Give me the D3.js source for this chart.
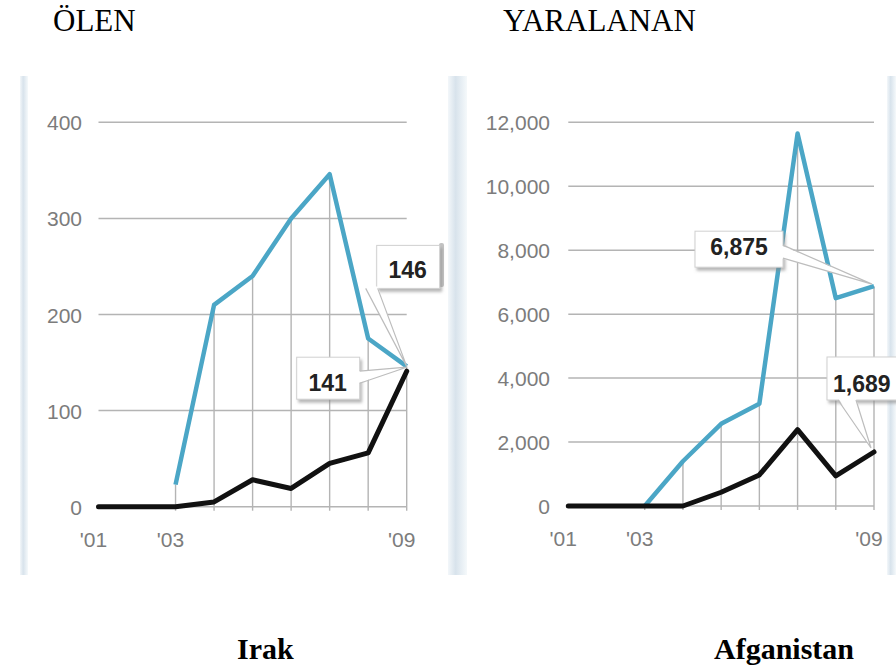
<!DOCTYPE html>
<html>
<head>
<meta charset="utf-8">
<script src="https://cdn.jsdelivr.net/npm/d3@7"></script>
<style>
  body { margin: 0; background: #fff; }
  svg { display: block; overflow: hidden; }
</style>
</head>
<body>
<div id="Chart"></div>
<script>
//////////////////////////////////////////////////////////////////////////
// data

var years = [2001, 2002, 2003, 2004, 2005, 2006, 2007, 2008, 2009];
var yearTickValues = [2001, 2003, 2009];
var yearTickLabels = ["'01", "'03", "'09"];

// killed (left panel)
var killedBlue  = [null, null, 23, 210, 240, 300, 346, 175, 146];
var killedBlack = [0, 0, 0, 5, 28, 19, 45, 56, 141];
var killedTicks = [0, 100, 200, 300, 400];

// wounded (right panel)
var woundedBlue  = [null, null, 0, 1400, 2570, 3200, 11650, 6500, 6875];
var woundedBlack = [0, 0, 0, 0, 430, 970, 2390, 940, 1689];
var woundedTicks = [0, 2000, 4000, 6000, 8000, 10000, 12000];

var titles = ["ÖLEN", "YARALANAN"];
var countries = ["Irak", "Afganistan"];

//////////////////////////////////////////////////////////////////////////
// layout constants

var Width = 896;
var Height = 670;
var BlueColor = "#4ba6c6";
var BlackColor = "#111";
var GridColor = "#b4b4b4";

var panels = [
    { blue: killedBlue, black: killedBlack, ticks: killedTicks,
      xRange: [98.5, 406.7], yRange: [506.7, 122.3], yMax: 400,
      labelX: 82, fmt: d3.format("d"),
      title: { x: 53, y: 31 }, country: { x: 237, y: 659 },
      // callouts: box relative to the last data point
      callouts: [
          { series: "blue", box: [-30, -121, 63, 43], textX: 31, textY: 33, anchor: "middle",
            base: [[-11, 0], [1, 0]], baseSide: "bottom", tip: [0, 0] },
          { series: "black", box: [-110, -14, 63, 42], textX: 31, textY: 34, anchor: "middle",
            base: [[0, 14], [0, 26]], baseSide: "right", tip: [0, -4] }
      ] },
    { blue: woundedBlue, black: woundedBlack, ticks: woundedTicks,
      xRange: [568.3, 874], yRange: [506, 122.3], yMax: 12000,
      labelX: 550, fmt: d3.format(","),
      title: { x: 503, y: 31 }, country: { x: 714, y: 659 },
      callouts: [
          { series: "blue", box: [-179, -55, 88, 36], textX: 44, textY: 24, anchor: "middle",
            base: [[0, 14], [0, 27]], baseSide: "right", tip: [-2, -2] },
          { series: "black", box: [-47, -95, 90, 43], textX: 6, textY: 35, anchor: "start",
            base: [[11, 0], [29, 0]], baseSide: "bottom", tip: [-3, -4] }
      ] }
];

//////////////////////////////////////////////////////////////////////////
// functions

function initialize () {

    var svg = d3.select("#Chart")
        .append("svg")
        .attr("width", Width)
        .attr("height", Height);

    makeDefs(svg);
    makeFrames(svg);

    panels.forEach(function (p, i) {
        drawPanel(svg, p, i);
    });

} // end initialize

// gradient for the pale blue frame edges and a shadow for callouts
function makeDefs (svg) {

    var defs = svg.append("defs");

    var grad = defs.append("linearGradient")
        .attr("id", "edge")
        .attr("x1", "0").attr("x2", "1").attr("y1", "0").attr("y2", "0");
    grad.append("stop").attr("offset", "0%").attr("stop-color", "#f3f7fa");
    grad.append("stop").attr("offset", "40%").attr("stop-color", "#d8e3ec");
    grad.append("stop").attr("offset", "100%").attr("stop-color", "#f5f9fb");

    var shadow = defs.append("filter")
        .attr("id", "shadow")
        .attr("x", "-20%").attr("y", "-20%")
        .attr("width", "150%").attr("height", "160%");
    shadow.append("feDropShadow")
        .attr("dx", 2).attr("dy", 3)
        .attr("stdDeviation", 1.6)
        .attr("flood-color", "#888")
        .attr("flood-opacity", 0.6);

} // end makeDefs

// the pale vertical strips that frame the two panels
function makeFrames (svg) {

    var strips = [[20, 8], [448, 19], [887, 9]];

    svg.selectAll("rect.edge")
        .data(strips)
        .enter()
        .append("rect")
        .attr("class", "edge")
        .attr("x", function (d) { return d[0]; })
        .attr("y", 76)
        .attr("width", function (d) { return d[1]; })
        .attr("height", 499)
        .attr("fill", "url(#edge)");

    // small grey handle left of the second panel
    svg.append("rect")
        .attr("x", 439).attr("y", 243)
        .attr("width", 5).attr("height", 44)
        .attr("rx", 2)
        .attr("fill", "#9a9a9a")
        .attr("opacity", 0.6);

} // end makeFrames

function drawPanel (svg, p, i) {

    var g = svg.append("g").attr("class", "panel");

    var xScale = d3.scaleLinear()
        .domain([years[0], years[years.length - 1]])
        .range(p.xRange);

    var yScale = d3.scaleLinear()
        .domain([0, p.yMax])
        .range(p.yRange);

    // horizontal grid lines
    g.selectAll("line.hgrid")
        .data(p.ticks)
        .enter()
        .append("line")
        .attr("class", "hgrid")
        .attr("x1", xScale.range()[0])
        .attr("x2", xScale.range()[1])
        .attr("y1", function (d) { return yScale(d); })
        .attr("y2", function (d) { return yScale(d); })
        .attr("stroke", GridColor)
        .attr("stroke-width", 1.5);

    // y tick labels
    g.selectAll("text.ylabel")
        .data(p.ticks)
        .enter()
        .append("text")
        .attr("class", "ylabel")
        .attr("x", p.labelX)
        .attr("y", function (d) { return yScale(d) + 8; })
        .attr("text-anchor", "end")
        .attr("font-family", "Liberation Sans, Arial, sans-serif")
        .attr("font-size", "21px")
        .attr("fill", "#7c7c7c")
        .text(p.fmt);

    // drop lines under the blue series
    var drops = years.map(function (y, k) { return { year: y, value: p.blue[k] }; })
        .filter(function (d) { return d.value !== null; });

    g.selectAll("line.drop")
        .data(drops)
        .enter()
        .append("line")
        .attr("class", "drop")
        .attr("x1", function (d) { return xScale(d.year); })
        .attr("x2", function (d) { return xScale(d.year); })
        .attr("y1", function (d) { return yScale(d.value); })
        .attr("y2", yScale(0) + 4)
        .attr("stroke", GridColor)
        .attr("stroke-width", 1.4);

    // x tick labels
    g.selectAll("text.xlabel")
        .data(yearTickValues)
        .enter()
        .append("text")
        .attr("class", "xlabel")
        .attr("x", function (d) { return xScale(d) - 5; })
        .attr("y", yScale(0) + 40)
        .attr("text-anchor", "middle")
        .attr("font-family", "Liberation Sans, Arial, sans-serif")
        .attr("font-size", "21px")
        .attr("fill", "#7c7c7c")
        .text(function (d, k) { return yearTickLabels[k]; });

    var line = d3.line()
        .defined(function (d) { return d !== null; })
        .x(function (d, k) { return xScale(years[k]); })
        .y(function (d) { return yScale(d); })
        .curve(d3.curveLinear);

    g.append("path")
        .datum(p.blue)
        .attr("d", line)
        .attr("fill", "none")
        .attr("stroke", BlueColor)
        .attr("stroke-width", 4.5)
        .attr("stroke-linejoin", "round");

    g.append("path")
        .datum(p.black)
        .attr("d", line)
        .attr("fill", "none")
        .attr("stroke", BlackColor)
        .attr("stroke-width", 5)
        .attr("stroke-linejoin", "round")
        .attr("stroke-linecap", "round");

    // value callouts on the last year
    p.callouts.forEach(function (c) {
        var series = c.series === "blue" ? p.blue : p.black;
        var last = series[series.length - 1];
        var px = xScale(years[years.length - 1]);
        var py = yScale(last);
        drawCallout(g, c, px, py, p.fmt(last));
    });

    // panel title and country name
    svg.append("text")
        .attr("x", p.title.x)
        .attr("y", p.title.y)
        .attr("font-family", "Liberation Serif, Times New Roman, serif")
        .attr("font-size", "31px")
        .attr("fill", "#000")
        .text(titles[i]);

    svg.append("text")
        .attr("x", p.country.x)
        .attr("y", p.country.y)
        .attr("font-family", "Liberation Serif, Times New Roman, serif")
        .attr("font-size", "30px")
        .attr("font-weight", "bold")
        .attr("fill", "#000")
        .text(countries[i]);

} // end drawPanel

// a white label box with a wedge pointing at the data point
function drawCallout (g, c, px, py, label) {

    var bx = px + c.box[0];
    var by = py + c.box[1];
    var bw = c.box[2];
    var bh = c.box[3];

    // base points of the wedge sit on an edge of the box
    var ox = c.baseSide === "right" ? bx + bw : bx;
    var oy = c.baseSide === "bottom" ? by + bh : by;
    var b1 = [ox + c.base[0][0], oy + c.base[0][1]];
    var b2 = [ox + c.base[1][0], oy + c.base[1][1]];
    var tip = [px + c.tip[0], py + c.tip[1]];

    g.append("rect")
        .attr("x", bx).attr("y", by)
        .attr("width", bw).attr("height", bh)
        .attr("fill", "#fff")
        .attr("stroke", "#d0d0d0")
        .attr("stroke-width", 1)
        .attr("filter", "url(#shadow)");

    // wedge fill, reaching a little into the box to hide its border
    var inset = c.baseSide === "right" ? [-2, 0] : [0, -2];
    g.append("path")
        .attr("d", "M" + (b1[0] + inset[0]) + "," + (b1[1] + inset[1]) +
              "L" + tip[0] + "," + tip[1] +
              "L" + (b2[0] + inset[0]) + "," + (b2[1] + inset[1]) + "Z")
        .attr("fill", "#fff")
        .attr("stroke", "none");

    // wedge edges
    g.append("path")
        .attr("d", "M" + b1[0] + "," + b1[1] + "L" + tip[0] + "," + tip[1] +
              "L" + b2[0] + "," + b2[1])
        .attr("fill", "none")
        .attr("stroke", "#bdbdbd")
        .attr("stroke-width", 1.2);

    g.append("text")
        .attr("x", bx + c.textX)
        .attr("y", by + c.textY)
        .attr("text-anchor", c.anchor)
        .attr("font-family", "Liberation Sans, Arial, sans-serif")
        .attr("font-size", "23px")
        .attr("font-weight", "bold")
        .attr("fill", "#222")
        .text(label);

} // end drawCallout

initialize();
</script>
</body>
</html>
